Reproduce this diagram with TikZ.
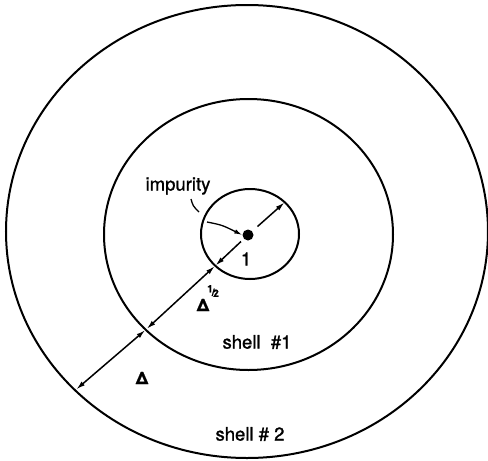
\documentclass[tikz,border=0pt]{standalone}
\usepackage{fontspec}
\setmainfont{TeX Gyre Heros}
\newfontfamily\lblfont[FakeBold=1.2]{TeX Gyre Heros}
\usetikzlibrary{arrows.meta}
\begin{document}
\begin{tikzpicture}[x=1pt,y=-1pt,
  ring/.style={line width=2pt},
  lbl/.style={font=\lblfont\fontsize{18.5}{20}\selectfont, inner sep=0pt},
  dim/.style={line width=1.5pt, -{Latex[length=9pt,width=5pt]}},
  dimb/.style={line width=1.5pt, {Latex[length=9pt,width=5pt]}-{Latex[length=9pt,width=5pt]}}]
\useasboundingbox (0,0) rectangle (488,461);
\clip (0,0) rectangle (488,461);
% shells
\draw[ring] (247,231.5) ellipse [x radius=241, y radius=226.5];
\draw[ring] (248.5,234.5) ellipse [x radius=144.5, y radius=135.5];
\draw[ring] (250,234) ellipse [x radius=49, y radius=45];
% impurity
\fill (248,235) circle [radius=5.5];
\node[circle, minimum size=11pt, inner sep=0pt] (dot) at (248,235) {};
% coordinates on the radial line
\coordinate (ur) at (284.5,202.5);
\coordinate (ursta) at (257.5,226.5);
\coordinate (llsta) at (241,241.5);
\coordinate (inl) at (215.5,265.5);
\coordinate (midl) at (146,329.5);
\coordinate (outl) at (75.5,390);
% arrows
\draw[dim] (ursta) -- (ur);
\draw[dim] (llsta) -- (inl);
\draw[dimb, shorten <=1pt, shorten >=1pt] (inl) -- (midl);
\draw[dimb, shorten <=1pt, shorten >=1pt] (midl) -- (outl);
% labels
\node[lbl] (imp) at (178,186) {impurity};
\coordinate (lead1) at (191,199);
\coordinate (lead2) at (199,212);
\coordinate (lead3) at (207,222);
\draw[line width=1.3pt] (lead1) .. controls (193,206) .. (lead2);
\draw[line width=1.3pt, -{Latex[length=8pt,width=4.5pt]}] (lead3) .. controls (222,225) .. (dot.west);
\node[lbl] (one) at (246,259) {1};
\node[lbl, font=\lblfont\fontsize{17}{20}\selectfont\bfseries] (dhalf) at (203,305) {Δ};
\node[lbl, font=\lblfont\fontsize{10}{10}\selectfont\bfseries] (half) at (213,291) {\raisebox{3.5pt}{1}\kern-1pt/\kern-1.5pt\raisebox{-1pt}{2}};
\node[lbl, font=\lblfont\fontsize{17}{20}\selectfont\bfseries] (dfull) at (142,378) {Δ};
\node[lbl] (s1) at (257,342) {shell \ \#1};
\node[lbl] (s2) at (250,434) {shell \# 2};
\end{tikzpicture}
\end{document}
